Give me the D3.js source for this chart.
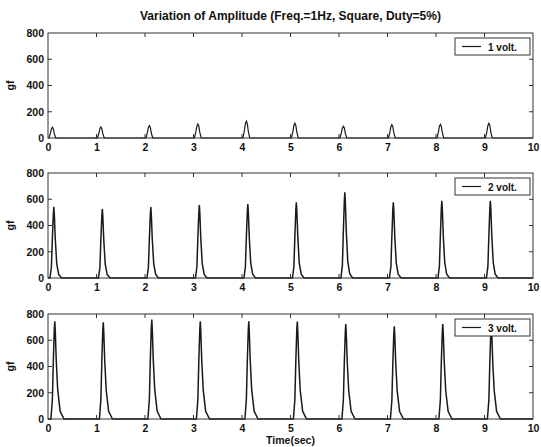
<!DOCTYPE html>
<html>
<head>
<meta charset="utf-8">
<script src="https://cdn.jsdelivr.net/npm/d3@7"></script>
<style>
	body{margin:0;background:#fff;}
	svg text{font-family:"Liberation Sans", Arial, sans-serif;font-weight:bold;fill:#111;}
</style>
</head>
<body>
<svg id="chart" width="541" height="447"></svg>
<script>
// values
const pulseSeconds = [0, 1, 2, 3, 4, 5, 6, 7, 8, 9];
const xTicks = [0, 1, 2, 3, 4, 5, 6, 7, 8, 9, 10];
const yTicks = [0, 200, 400, 600, 800];
const legendLabels = ["1 volt.", "2 volt.", "3 volt."];

const peaks1 = [82, 84, 95, 107, 128, 112, 90, 102, 104, 112];
const peaks2 = [543, 526, 540, 556, 564, 577, 653, 577, 589, 589];
const peaks3 = [744, 737, 757, 744, 744, 742, 724, 706, 724, 720];

// pulse outline (time after the second, fraction of peak)
const shape1Offsets = [0.02, 0.05, 0.07, 0.09, 0.11, 0.13, 0.16];
const shape1Levels  = [0, 0.45, 0.85, 1.0, 0.85, 0.4, 0];
const shape2Offsets = [0.04, 0.07, 0.09, 0.11, 0.12, 0.13, 0.15, 0.18, 0.22, 0.28];
const shape2Levels  = [0, 0.15, 0.55, 0.9, 1.0, 0.9, 0.55, 0.2, 0.05, 0];
const shape3Offsets = [0.06, 0.09, 0.11, 0.13, 0.14, 0.15, 0.17, 0.2, 0.25, 0.33];
const shape3Levels  = [0, 0.2, 0.6, 0.92, 1.0, 0.9, 0.6, 0.3, 0.08, 0];

const margin = {left: 48, right: 8};
const width = 541 - margin.left - margin.right;
const panelTops = [33, 173, 314];
const panelHeight = 105;

var svg = d3.select('#chart');

svg.append('text')
	.attr('x', margin.left + width / 2)
	.attr('y', 20)
	.attr('text-anchor', 'middle')
	.style('font-size', '12px')
	.text('Variation of Amplitude (Freq.=1Hz, Square, Duty=5%)');

function buildSeries(peaks, offsets, levels){
	var pts = [[0, 0]];
	pulseSeconds.forEach(function(s, i){
		offsets.forEach(function(o, j){
			pts.push([s + o, peaks[i] * levels[j]]);
		});
	});
	pts.push([10, 0]);
	return pts;
}

function drawPanel(idx, series, label){
	var top = panelTops[idx];
	var x = d3.scaleLinear().domain([0, 10]).range([0, width]);
	var y = d3.scaleLinear().domain([0, 800]).range([panelHeight, 0]);

	var g = svg.append('g').attr('transform', 'translate(' + margin.left + ',' + top + ')');

	//axes: labels outside, ticks inside (matlab style)
	var xAxis = d3.axisBottom(x).tickValues(xTicks).tickSize(0).tickPadding(6).tickFormat(d3.format('d'));
	var yAxis = d3.axisLeft(y).tickValues(yTicks).tickSize(0).tickPadding(4);

	var xg = g.append('g').attr('transform', 'translate(0,' + panelHeight + ')').call(xAxis);
	var yg = g.append('g').call(yAxis);
	[xg, yg].forEach(function(a){
		a.select('.domain').remove();
		a.selectAll('text').style('font-size', '10.5px').style('font-family', '"Liberation Sans", Arial, sans-serif').attr('fill', '#111');
	});

	// inner ticks on all four sides
	var tk = g.append('g').attr('stroke', '#333').attr('stroke-width', 1);
	xTicks.slice(1, -1).forEach(function(t){
		tk.append('line').attr('x1', x(t)).attr('x2', x(t)).attr('y1', panelHeight).attr('y2', panelHeight - 4);
		tk.append('line').attr('x1', x(t)).attr('x2', x(t)).attr('y1', 0).attr('y2', 4);
	});
	yTicks.slice(1, -1).forEach(function(t){
		tk.append('line').attr('x1', 0).attr('x2', 4).attr('y1', y(t)).attr('y2', y(t));
		tk.append('line').attr('x1', width).attr('x2', width - 4).attr('y1', y(t)).attr('y2', y(t));
	});

	var line = d3.line().x(function(d){ return x(d[0]); }).y(function(d){ return y(d[1]); });
	g.append('path')
		.datum(series)
		.attr('d', line)
		.attr('fill', 'none')
		.attr('stroke', '#1a1a1a')
		.attr('stroke-width', idx == 0 ? 1.2 : 1.5);

	g.append('rect')
		.attr('width', width).attr('height', panelHeight)
		.attr('fill', 'none').attr('stroke', '#333').attr('stroke-width', 1);

	// y label
	g.append('text')
		.attr('transform', 'translate(' + (-34) + ',' + (panelHeight / 2) + ') rotate(-90)')
		.attr('text-anchor', 'middle')
		.style('font-size', '10.5px')
		.text('gf');

	// legend
	var lg = g.append('g').attr('transform', 'translate(' + (width - 78) + ',5)');
	lg.append('rect').attr('width', 75).attr('height', 17)
		.attr('fill', '#fff').attr('stroke', '#333').attr('stroke-width', 1);
	lg.append('line').attr('x1', 7).attr('x2', 26).attr('y1', 8.5).attr('y2', 8.5)
		.attr('stroke', '#1a1a1a').attr('stroke-width', 1.2);
	lg.append('text').attr('x', 33).attr('y', 12.5)
		.style('font-size', '10px')
		.text(label);

	return {x: x, y: y};
}

drawPanel(0, buildSeries(peaks1, shape1Offsets, shape1Levels), legendLabels[0]);
drawPanel(1, buildSeries(peaks2, shape2Offsets, shape2Levels), legendLabels[1]);
drawPanel(2, buildSeries(peaks3, shape3Offsets, shape3Levels), legendLabels[2]);

svg.append('text')
	.attr('x', margin.left + width / 2)
	.attr('y', 444)
	.attr('text-anchor', 'middle')
	.style('font-size', '10.5px')
	.text('Time(sec)');
</script>
</body>
</html>
